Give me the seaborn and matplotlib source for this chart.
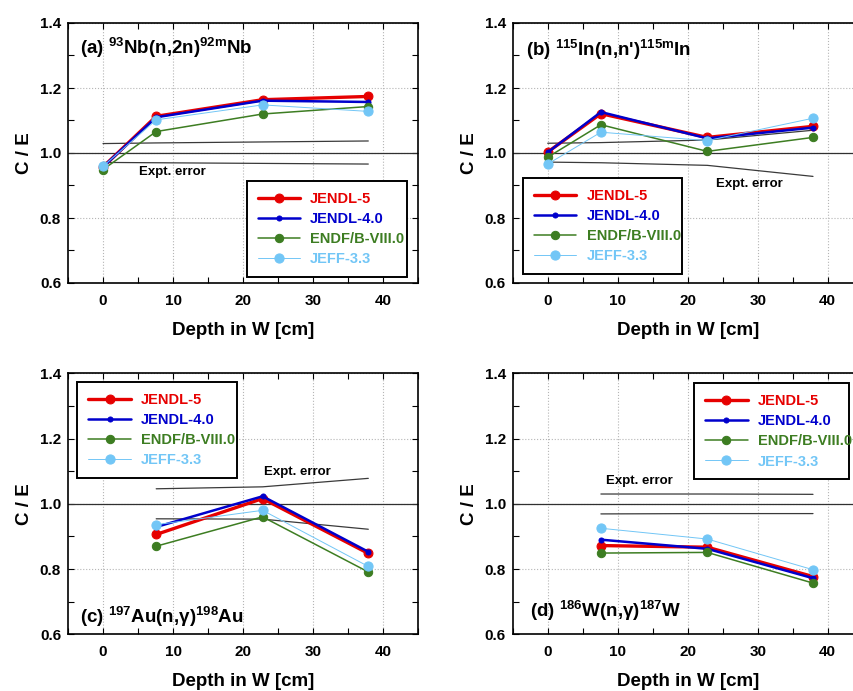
import matplotlib
matplotlib.use("Agg")
import matplotlib.pyplot as plt
from matplotlib.ticker import MultipleLocator
import pandas as pd
import seaborn as sns

# Measurement depths in the tungsten assembly [cm]
depth_full = [0.0, 7.6, 22.8, 37.9]
depth_deep = [7.6, 22.8, 37.9]

libraries = ["JENDL-5", "JENDL-4.0", "ENDF/B-VIII.0", "JEFF-3.3"]

# (a) 93Nb(n,2n)92mNb  C/E
nb_jendl5 = [0.957, 1.113, 1.164, 1.174]
nb_jendl4 = [0.957, 1.110, 1.161, 1.157]
nb_endf = [0.949, 1.066, 1.120, 1.143]
nb_jeff = [0.959, 1.102, 1.148, 1.128]
nb_err_hi = [1.029, 1.031, 1.034, 1.037]
nb_err_lo = [0.971, 0.970, 0.968, 0.966]

# (b) 115In(n,n')115mIn  C/E
in_jendl5 = [1.003, 1.121, 1.048, 1.082]
in_jendl4 = [1.002, 1.126, 1.045, 1.078]
in_endf = [0.987, 1.087, 1.005, 1.048]
in_jeff = [0.966, 1.064, 1.038, 1.107]
in_err_hi = [1.030, 1.032, 1.040, 1.070]
in_err_lo = [0.972, 0.970, 0.962, 0.928]

# (c) 197Au(n,g)198Au  C/E
au_jendl5 = [0.906, 1.016, 0.848]
au_jendl4 = [0.929, 1.023, 0.853]
au_endf = [0.870, 0.960, 0.791]
au_jeff = [0.936, 0.980, 0.808]
au_err_hi = [1.046, 1.052, 1.078]
au_err_lo = [0.954, 0.953, 0.922]

# (d) 186W(n,g)187W  C/E
w_jendl5 = [0.872, 0.867, 0.777]
w_jendl4 = [0.890, 0.862, 0.772]
w_endf = [0.849, 0.851, 0.757]
w_jeff = [0.925, 0.892, 0.798]
w_err_hi = [1.030, 1.030, 1.029]
w_err_lo = [0.969, 0.970, 0.970]

x_ticks = [0, 10, 20, 30, 40]
y_ticks = [0.6, 0.8, 1.0, 1.2, 1.4]

styles = {
    "JENDL-5": dict(color="#e60000", lw=2.4, ms=6.4),
    "JENDL-4.0": dict(color="#0000cc", lw=1.8, ms=3.6),
    "ENDF/B-VIII.0": dict(color="#3d7d22", lw=1.1, ms=6.0),
    "JEFF-3.3": dict(color="#72c6f6", lw=0.7, ms=6.6),
}

sns.set_style("ticks")
plt.rcParams.update({
    "font.family": ["Liberation Sans", "DejaVu Sans"],
    "font.weight": "bold",
    "axes.labelweight": "bold",
    "text.color": "black",
    "axes.labelcolor": "black",
    "xtick.color": "black",
    "ytick.color": "black",
    "axes.edgecolor": "black",
    "mathtext.fontset": "custom",
    "mathtext.rm": "Liberation Sans:bold",
    "mathtext.it": "Liberation Sans:bold",
    "mathtext.bf": "Liberation Sans:bold",
    "mathtext.default": "rm",
})

W, H = 854, 691
fig = plt.figure(figsize=(W / 100, H / 100), dpi=100)


def rect(left, top, right, bottom):
    return [left / W, 1 - bottom / H, (right - left) / W, (bottom - top) / H]


panels = [
    dict(rect=rect(68, 23, 418, 283), depth=depth_full,
         series=[nb_jendl5, nb_jendl4, nb_endf, nb_jeff],
         err=(nb_err_hi, nb_err_lo),
         title=r"(a) $^{93}$Nb(n,2n)$^{92m}$Nb", title_xy=(0.034, 0.905),
         err_txt=(5.1, 0.94), leg=(0.511, 0.392, 0.458)),
    dict(rect=rect(512.7, 23, 862.7, 283), depth=depth_full,
         series=[in_jendl5, in_jendl4, in_endf, in_jeff],
         err=(in_err_hi, in_err_lo),
         title=r"(b) $^{115}$In(n,n')$^{115m}$In", title_xy=(0.038, 0.895),
         err_txt=(24.1, 0.905), leg=(0.030, 0.404, 0.455)),
    dict(rect=rect(68, 373.3, 418, 634.3), depth=depth_deep,
         series=[au_jendl5, au_jendl4, au_endf, au_jeff],
         err=(au_err_hi, au_err_lo),
         title=r"(c) $^{197}$Au(n,γ)$^{198}$Au", title_xy=(0.034, 0.068),
         err_txt=(22.95, 1.097), leg=(0.027, 0.966, 0.456)),
    dict(rect=rect(512.7, 373.3, 862.7, 634.3), depth=depth_deep,
         series=[w_jendl5, w_jendl4, w_endf, w_jeff],
         err=(w_err_hi, w_err_lo),
         title=r"(d) $^{186}$W(n,γ)$^{187}$W", title_xy=(0.050, 0.091),
         err_txt=(8.3, 1.07), leg=(0.519, 0.962, 0.443)),
]

for p in panels:
    ax = fig.add_axes(p["rect"])
    ax.set_xlim(-5, 45)
    ax.set_ylim(0.6, 1.4)

    ax.grid(True, which="major", ls=":", color="#b5b5b5", lw=0.8)
    ax.axhline(1.0, color="#303030", lw=0.9, zorder=1.5)

    # experimental uncertainty band edges
    for err in p["err"]:
        sns.lineplot(x=p["depth"], y=err, ax=ax, color="#3a3a3a", lw=0.9,
                     zorder=1.6, legend=False)
    ex, ey = p["err_txt"]
    ax.text(ex, ey, "Expt. error", fontsize=9.5, fontweight="bold",
            ha="left", va="center", color="black")

    for lib, vals in zip(libraries, p["series"]):
        st = styles[lib]
        df = pd.DataFrame({"depth": p["depth"], "ce": vals})
        sns.lineplot(data=df, x="depth", y="ce", ax=ax, color=st["color"],
                     lw=st["lw"], marker="o", ms=st["ms"], mec=st["color"],
                     mfc=st["color"], label=lib, zorder=3)

    ax.set_xticks(x_ticks)
    ax.set_yticks(y_ticks)
    ax.set_yticklabels([f"{v:.1f}" for v in y_ticks])
    ax.xaxis.set_minor_locator(MultipleLocator(5))
    ax.yaxis.set_minor_locator(MultipleLocator(0.1))
    ax.tick_params(which="both", direction="in", top=True, right=True,
                   length=4, width=0.8, labelsize=11)
    ax.tick_params(axis="x", which="major", pad=8)
    ax.tick_params(axis="y", which="major", pad=5)
    for lab in ax.get_xticklabels() + ax.get_yticklabels():
        lab.set_fontweight("bold")
    for s in ax.spines.values():
        s.set_linewidth(1.2)
        s.set_color("black")

    ax.set_xlabel("Depth in W [cm]", fontsize=13.5, fontweight="bold",
                  labelpad=10)
    ax.set_ylabel("C / E", fontsize=13.5, fontweight="bold", labelpad=5)

    tx, ty = p["title_xy"]
    ax.text(tx, ty, p["title"], transform=ax.transAxes, fontsize=13.5,
            fontweight="bold", ha="left", va="center")

    lx, ltop, lw_ = p["leg"]
    leg = ax.legend(loc="upper left", bbox_to_anchor=(lx, ltop - 0.3, lw_, 0.3),
                    mode="expand", frameon=True, fancybox=False,
                    edgecolor="black", framealpha=1, fontsize=10.5,
                    handlelength=2.9, handletextpad=0.7, labelspacing=0.42,
                    borderpad=0.75, borderaxespad=0)
    leg.get_frame().set_linewidth(1.4)
    for txt, lib in zip(leg.get_texts(), libraries):
        txt.set_color(styles[lib]["color"])
        txt.set_fontweight("bold")

fig.savefig("out.png", dpi=100)
